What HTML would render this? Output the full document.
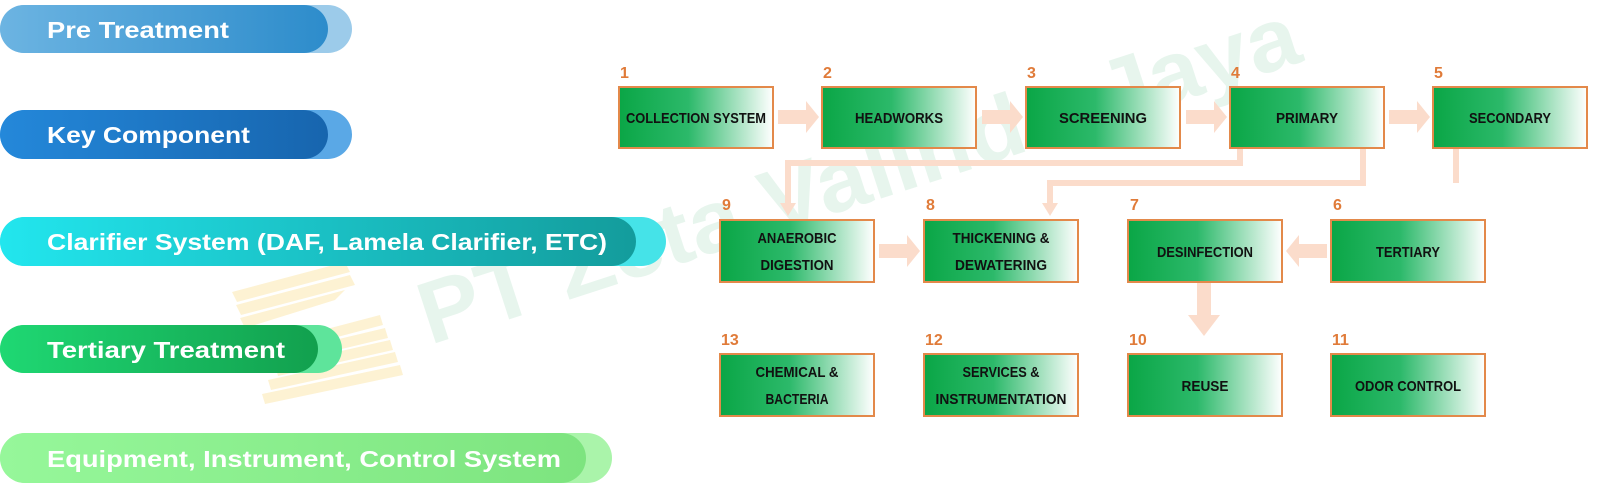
<!DOCTYPE html>
<html><head><meta charset="utf-8"><style>
html,body{margin:0;padding:0;background:#fff;width:1600px;height:497px;overflow:hidden}
svg{display:block}
</style></head><body>
<svg width="1600" height="497" viewBox="0 0 1600 497" xmlns="http://www.w3.org/2000/svg">
<defs>
<linearGradient id="bx" x1="0" y1="0" x2="1" y2="0">
<stop offset="0" stop-color="#0aa646"/><stop offset="0.45" stop-color="#2cb96a"/><stop offset="1" stop-color="#ffffff"/></linearGradient>
<linearGradient id="p1" x1="0" x2="1"><stop offset="0" stop-color="#6cb4e2"/><stop offset="1" stop-color="#2d8ccb"/></linearGradient>
<linearGradient id="p2" x1="0" x2="1"><stop offset="0" stop-color="#2488da"/><stop offset="1" stop-color="#1765ae"/></linearGradient>
<linearGradient id="p3" x1="0" x2="1"><stop offset="0" stop-color="#22e6ee"/><stop offset="1" stop-color="#139c9c"/></linearGradient>
<linearGradient id="p4" x1="0" x2="1"><stop offset="0" stop-color="#1fd873"/><stop offset="1" stop-color="#12a04e"/></linearGradient>
<linearGradient id="p5" x1="0" x2="1"><stop offset="0" stop-color="#96f79a"/><stop offset="1" stop-color="#7de47f"/></linearGradient>
</defs>

<g fill="#fdf1cf" opacity="0.9">
<polygon points="232,292 345,262 350,272 237,302"/>
<polygon points="236,305 350,275 355,285 241,315"/>
<polygon points="240,318 345,290 335,300 245,328"/>
<polygon points="285,340 380,315 383,325 288,350"/>
<polygon points="280,353 385,328 388,338 283,363"/>
<polygon points="275,366 390,340 393,350 278,376"/>
<polygon points="268,380 395,352 398,362 271,390"/>
<polygon points="262,394 400,365 403,375 265,404"/>
</g>
<text x="0" y="0" transform="translate(430,345) rotate(-18)" font-family="Liberation Sans, sans-serif" font-weight="bold" font-size="88" fill="#12a050" fill-opacity="0.1" textLength="920" lengthAdjust="spacingAndGlyphs">PT Zeta Valindo Jaya</text>

<g font-family="Liberation Sans, sans-serif" font-weight="bold" fill="#fff" font-size="23">
<rect x="0" y="5" width="352" height="48" rx="24" fill="#9ccbea"/>
<rect x="0" y="5" width="328" height="48" rx="24" fill="url(#p1)"/>
<text x="47" y="38" fill="#fff" textLength="182" lengthAdjust="spacingAndGlyphs">Pre Treatment</text>

<rect x="0" y="110" width="352" height="49" rx="24.5" fill="#5aa8e6"/>
<rect x="0" y="110" width="328" height="49" rx="24.5" fill="url(#p2)"/>
<text x="47" y="143" fill="#fff" textLength="203" lengthAdjust="spacingAndGlyphs">Key Component</text>

<rect x="0" y="217" width="666" height="49" rx="24.5" fill="#45e3e8"/>
<rect x="0" y="217" width="636" height="49" rx="24.5" fill="url(#p3)"/>
<text x="47" y="250" fill="#fff" textLength="560" lengthAdjust="spacingAndGlyphs">Clarifier System (DAF, Lamela Clarifier, ETC)</text>

<rect x="0" y="325" width="342" height="48" rx="24" fill="#5ee49b"/>
<rect x="0" y="325" width="318" height="48" rx="24" fill="url(#p4)"/>
<text x="47" y="358" fill="#fff" textLength="238" lengthAdjust="spacingAndGlyphs">Tertiary Treatment</text>

<rect x="0" y="433" width="612" height="50" rx="25" fill="#aaf4aa"/>
<rect x="0" y="433" width="586" height="50" rx="25" fill="url(#p5)"/>
<text x="47" y="467" fill="#fff" textLength="514" lengthAdjust="spacingAndGlyphs">Equipment, Instrument, Control System</text>
</g>

<g fill="none" stroke="#fbdccb" stroke-width="6">
<polyline points="1240,148 1240,163 788,163 788,205"/>
<polyline points="1363,148 1363,183 1050,183 1050,205"/>
<line x1="1456" y1="148" x2="1456" y2="183"/>
</g>
<g fill="#fbdccb">
<polygon points="780,203 796,203 788,216"/>
<polygon points="1042,203 1058,203 1050,216"/>
<g id="ha"><polygon points="778,110 806,110 806,101 819,117 806,133 806,124 778,124"/></g>
<use href="#ha" transform="translate(204,0)"/>
<use href="#ha" transform="translate(408,0)"/>
<use href="#ha" transform="translate(611,0)"/>
<use href="#ha" transform="translate(101,134)"/>
<polygon points="1327,244 1299,244 1299,235 1286,251 1299,267 1299,258 1327,258"/>
<polygon points="1197,283 1211,283 1211,315 1220,315 1204,336 1188,315 1197,315"/>
</g>

<g stroke="#e3894a" stroke-width="2" fill="url(#bx)">
<rect x="619" y="87" width="154" height="61"/>
<rect x="822" y="87" width="154" height="61"/>
<rect x="1026" y="87" width="154" height="61"/>
<rect x="1230" y="87" width="154" height="61"/>
<rect x="1433" y="87" width="154" height="61"/>
<rect x="720" y="220" width="154" height="62"/>
<rect x="924" y="220" width="154" height="62"/>
<rect x="1128" y="220" width="154" height="62"/>
<rect x="1331" y="220" width="154" height="62"/>
<rect x="720" y="354" width="154" height="62"/>
<rect x="924" y="354" width="154" height="62"/>
<rect x="1128" y="354" width="154" height="62"/>
<rect x="1331" y="354" width="154" height="62"/>
</g>

<g font-family="Liberation Sans, sans-serif" font-weight="bold" font-size="16" fill="#e07b39">
<text x="620" y="78">1</text><text x="823" y="78">2</text><text x="1027" y="78">3</text><text x="1231" y="78">4</text><text x="1434" y="78">5</text>
<text x="722" y="210">9</text><text x="926" y="210">8</text><text x="1130" y="210">7</text><text x="1333" y="210">6</text>
<text x="721" y="345">13</text><text x="925" y="345">12</text><text x="1129" y="345">10</text><text x="1332" y="345">11</text>
</g>

<g font-family="Liberation Sans, sans-serif" font-weight="bold" font-size="15" fill="#111" text-anchor="middle">
<text x="696" y="123" textLength="140" lengthAdjust="spacingAndGlyphs">COLLECTION SYSTEM</text>
<text x="899" y="123" textLength="88" lengthAdjust="spacingAndGlyphs">HEADWORKS</text>
<text x="1103" y="123" textLength="88" lengthAdjust="spacingAndGlyphs">SCREENING</text>
<text x="1307" y="123" textLength="62" lengthAdjust="spacingAndGlyphs">PRIMARY</text>
<text x="1510" y="123" textLength="82" lengthAdjust="spacingAndGlyphs">SECONDARY</text>
<text x="797" y="243" textLength="79" lengthAdjust="spacingAndGlyphs">ANAEROBIC</text>
<text x="797" y="270" textLength="73" lengthAdjust="spacingAndGlyphs">DIGESTION</text>
<text x="1001" y="243" textLength="97" lengthAdjust="spacingAndGlyphs">THICKENING &amp;</text>
<text x="1001" y="270" textLength="92" lengthAdjust="spacingAndGlyphs">DEWATERING</text>
<text x="1205" y="257" textLength="96" lengthAdjust="spacingAndGlyphs">DESINFECTION</text>
<text x="1408" y="257" textLength="64" lengthAdjust="spacingAndGlyphs">TERTIARY</text>
<text x="797" y="377" textLength="83" lengthAdjust="spacingAndGlyphs">CHEMICAL &amp;</text>
<text x="797" y="404" textLength="63" lengthAdjust="spacingAndGlyphs">BACTERIA</text>
<text x="1001" y="377" textLength="77" lengthAdjust="spacingAndGlyphs">SERVICES &amp;</text>
<text x="1001" y="404" textLength="131" lengthAdjust="spacingAndGlyphs">INSTRUMENTATION</text>
<text x="1205" y="391" textLength="47" lengthAdjust="spacingAndGlyphs">REUSE</text>
<text x="1408" y="391" textLength="106" lengthAdjust="spacingAndGlyphs">ODOR CONTROL</text>
</g>
</svg>
</body></html>
